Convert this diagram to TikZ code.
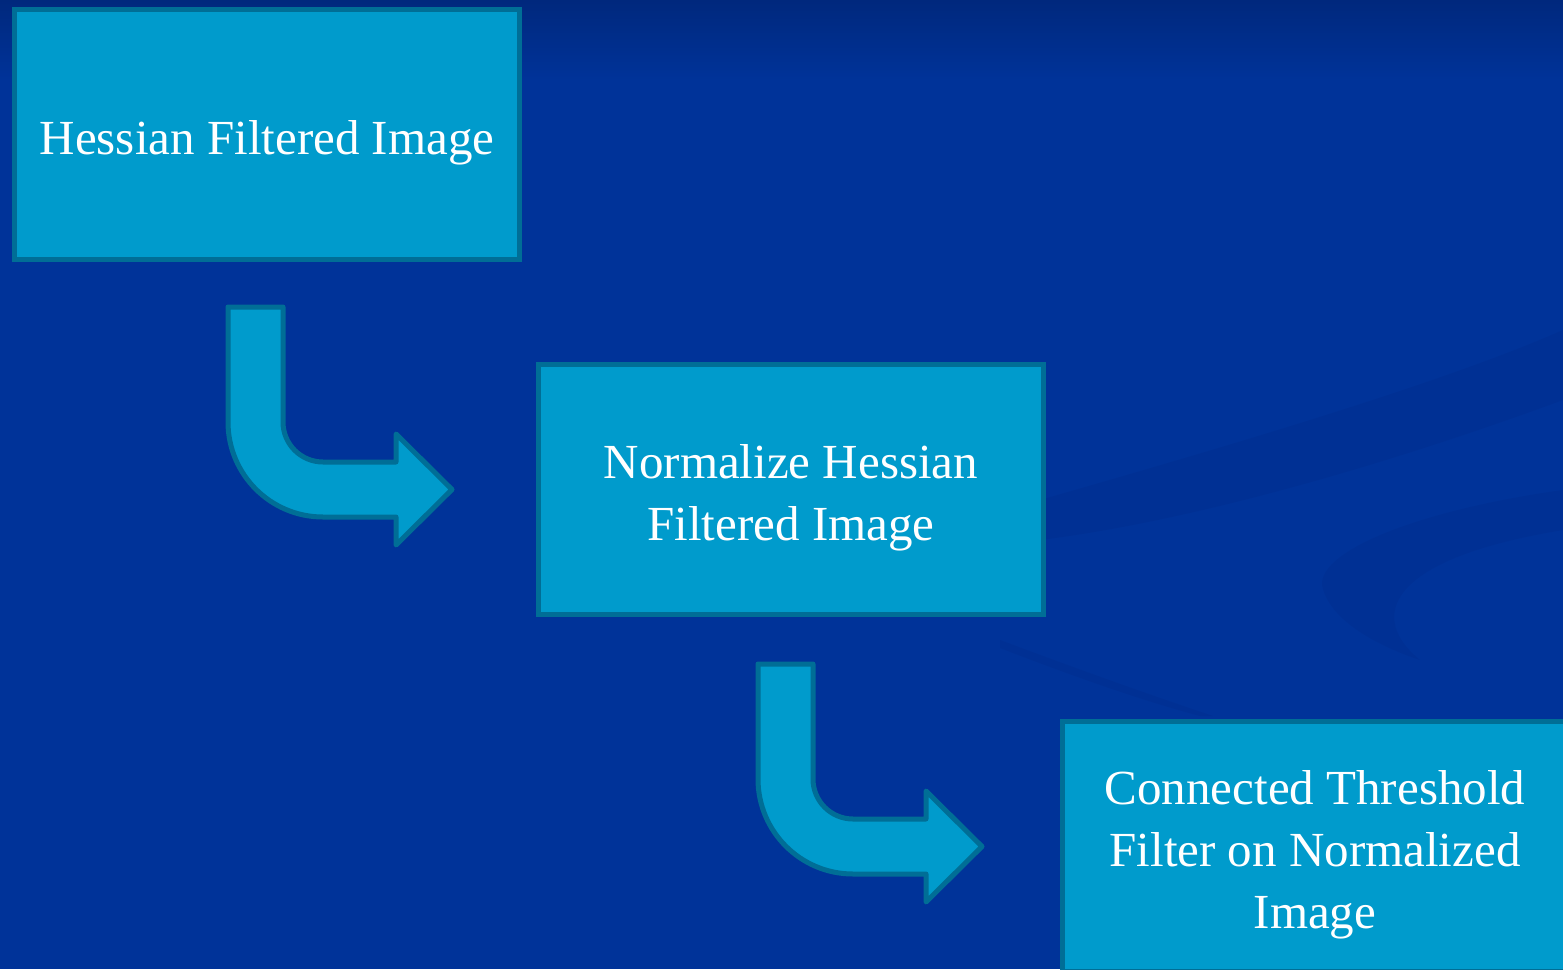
\documentclass[tikz,border=0pt]{standalone}
\usepackage{fontspec}
\setmainfont{Liberation Serif}
\usepackage{tikz}
\usetikzlibrary{positioning}
\definecolor{bgmain}{RGB}{0,51,153}
\definecolor{bgtop}{RGB}{0,40,125}
\definecolor{bgdark}{RGB}{0,30,110}
\definecolor{boxfill}{RGB}{0,155,204}
\definecolor{boxline}{RGB}{0,110,150}
\tikzstyle{stepbox} = [draw=boxline, fill=boxfill, line width=5pt, minimum width=505pt, minimum height=250pt, text=white, text width=480pt, align=flush center, font=\fontsize{49}{62}\selectfont, execute at begin node={\rule{0pt}{50pt}}]
\tikzstyle{bentarrow} = [draw=boxline, fill=boxfill, line width=5pt, line join=round]
\tikzstyle{swoosh} = [fill=bgdark, opacity=0.11]
\tikzset{bendarrow/.pic={
    \draw[bentarrow] (0,0) -- (55,0) -- (55,115) arc[start angle=180, end angle=90, radius=40]
        -- (168,155) -- (168,127) -- (224,182.5) -- (168,238) -- (168,210) -- (95,210)
        arc[start angle=90, end angle=180, radius=95] -- cycle;
}}

\begin{document}
\begin{tikzpicture}[x=1pt, y=-1pt]
        % Background
        \clip (0,0) rectangle (1563,969);
        \fill[bgmain] (0,0) rectangle (1563,969);
        \shade[top color=bgtop, bottom color=bgmain] (0,0) rectangle (1563,80);
        \fill[swoosh] (1040,500) .. controls (1250,440) and (1450,380) .. (1563,330) -- (1563,400) .. controls (1400,460) and (1200,520) .. (1040,540) -- cycle;
        \fill[swoosh] (1563,490) .. controls (1420,510) and (1320,550) .. (1322,585) .. controls (1330,625) and (1390,650) .. (1420,660) .. controls (1370,620) and (1380,560) .. (1563,530) -- cycle;
        \fill[swoosh] (1000,640) .. controls (1080,670) and (1150,695) .. (1213,716) -- (1200,716) .. controls (1140,700) and (1070,675) .. (1000,648) -- cycle;

        % Steps
        \node[stepbox] (hessian) at (267,134.5) {Hessian Filtered Image};
        \node[stepbox, below right=100pt and 14pt of hessian] (normalize) {Normalize Hessian\\Filtered Image};
        \node[stepbox, below right=102pt and 14pt of normalize] (threshold) {Connected Threshold\\Filter on Normalized\\Image};

        % Bent arrows
        \pic at ([xshift=216pt, yshift=-45pt]hessian.south west) {bendarrow};
        \pic at ([xshift=222pt, yshift=-47pt]normalize.south west) {bendarrow};
\end{tikzpicture}
\end{document}
